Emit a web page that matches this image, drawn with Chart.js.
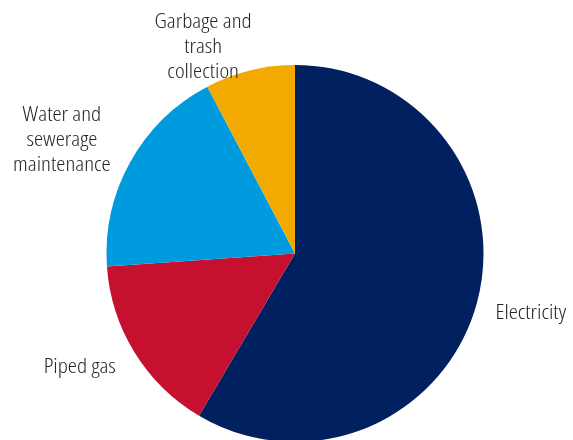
<!DOCTYPE html>
<html>
<head>
<meta charset="utf-8">
<script src="https://cdn.jsdelivr.net/npm/chart.js@4/dist/chart.umd.min.js"></script>
<style>
    html, body { margin: 0; padding: 0; background: #fff; overflow: hidden; }
    #wrap { width: 573px; height: 440px; overflow: hidden; }
</style>
</head>
<body>
<div id="wrap"><canvas id="utilityPie" width="573" height="507"></canvas></div>
<script>
    // Share of household utility spending
    const categories = ["Electricity", "Piped gas", "Water and\nsewerage\nmaintenance", "Garbage and\ntrash\ncollection"];
    const shares = [58.5, 15.4, 18.4, 7.7];
    const sliceColors = ["#00205F", "#C5112F", "#009BDE", "#F2A900"];

    // where each label sits relative to the outer middle of its slice
    const labelPlacement = [
        { align: "left", dx: 7, dy: 12.5 },
        { align: "center", dx: -44.6, dy: 14 },
        { align: "center", dx: -58, dy: -34.7 },
        { align: "center", dx: -43.8, dy: -30.9 }
    ];

    // pick a condensed face if one is around, otherwise squeeze a regular one
    const pickFont = (ctx) => {
        const probe = "Electricity Piped gas maintenance Garbage and";
        const widthOf = (font, stretch) => {
            ctx.font = font;
            if ("fontStretch" in ctx) ctx.fontStretch = stretch;
            return ctx.measureText(probe).width;
        };
        const mono = widthOf("21px monospace", "normal");
        const candidates = [
            { font: "300 21px 'Open Sans', monospace", stretch: "semi-condensed" },
            { font: "21px 'Liberation Sans Narrow', monospace", stretch: "normal" },
            { font: "21px 'DejaVu Sans Condensed', monospace", stretch: "normal" }
        ];
        for (const c of candidates) {
            const w = widthOf(c.font, c.stretch);
            if (Math.abs(w - mono) > 0.5) return { ...c, width: w };
        }
        const w = widthOf("21px 'Liberation Sans', sans-serif", "normal");
        return { font: "21px 'Liberation Sans', sans-serif", stretch: "normal", width: w };
    };

    const sliceLabels = {
        id: "sliceLabels",
        afterDatasetsDraw(chart) {
            const { ctx } = chart;
            const arcs = chart.getDatasetMeta(0).data;
            ctx.save();
            const face = pickFont(ctx);
            // the four probe words together should come to about 339px plus three spaces
            ctx.font = face.font;
            if ("fontStretch" in ctx) ctx.fontStretch = face.stretch;
            const gaps = ctx.measureText(" ").width * 3;
            const squeeze = Math.min(1.2, Math.max(0.7, (339 + gaps) / face.width));
            ctx.fillStyle = "#262626";
            ctx.textBaseline = "alphabetic";
            arcs.forEach((arc, i) => {
                const p = arc.getProps(["x", "y", "startAngle", "endAngle", "outerRadius"], true);
                const mid = (p.startAngle + p.endAngle) / 2;
                const r = p.outerRadius + 12;
                const ax = p.x + Math.cos(mid) * r + labelPlacement[i].dx;
                const ay = p.y + Math.sin(mid) * r + labelPlacement[i].dy;
                ctx.textAlign = labelPlacement[i].align;
                categories[i].split("\n").forEach((line, k) => {
                    ctx.save();
                    ctx.translate(ax, ay + k * 24.8);
                    ctx.scale(squeeze, 1);
                    ctx.fillText(line, 0, 0);
                    ctx.restore();
                });
            });
            ctx.restore();
        }
    };

    const ctx = document.getElementById("utilityPie").getContext("2d");
    new Chart(ctx, {
        type: "pie",
        data: {
            labels: categories,
            datasets: [{
                data: shares,
                backgroundColor: sliceColors,
                borderWidth: 0
            }]
        },
        options: {
            responsive: false,
            animation: false,
            layout: {
                padding: { left: 106.5, right: 89.5, top: 65, bottom: 65 }
            },
            plugins: {
                legend: { display: false },
                tooltip: { enabled: false }
            }
        },
        plugins: [sliceLabels]
    });
</script>
</body>
</html>
